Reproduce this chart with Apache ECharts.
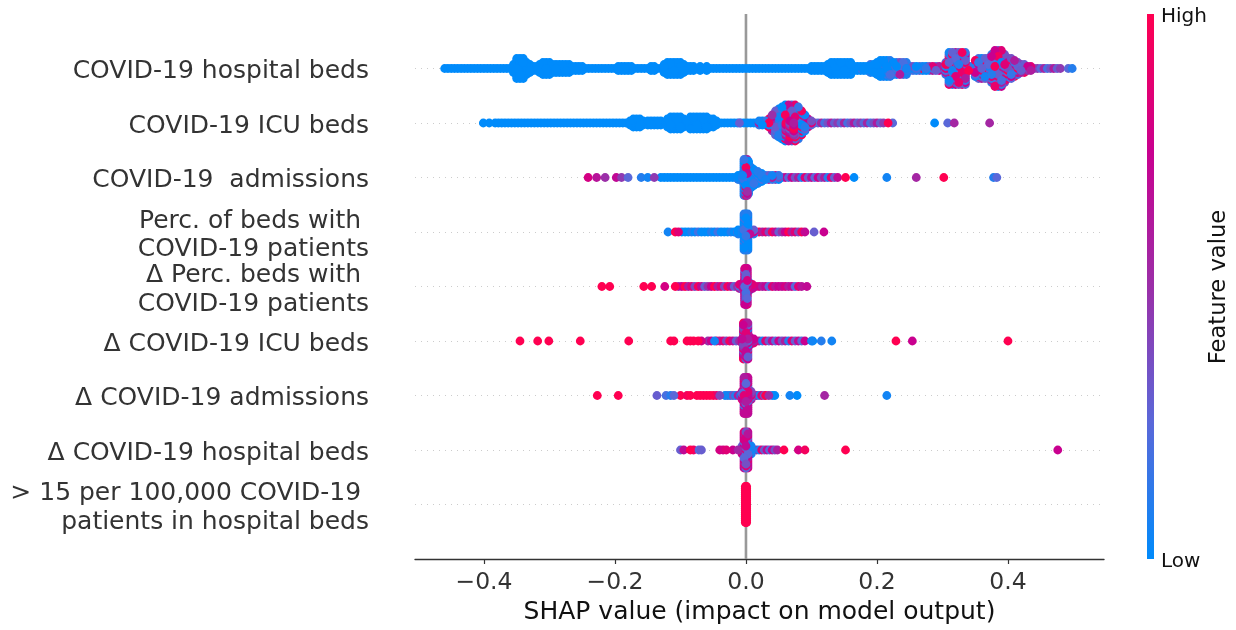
<!DOCTYPE html>
<html><head><meta charset="utf-8">
<script src="https://cdn.jsdelivr.net/npm/echarts@6/dist/echarts.min.js"></script>
<style>html,body{margin:0;padding:0;background:#fff}#c{width:1236px;height:630px}</style>
</head><body><div id="c"></div>
<script>
const featureNames = ['COVID-19 hospital beds','COVID-19 ICU beds','COVID-19  admissions','Perc. of beds with \nCOVID-19 patients','Δ Perc. beds with \nCOVID-19 patients','Δ COVID-19 ICU beds','Δ COVID-19 admissions','Δ COVID-19 hospital beds','> 15 per 100,000 COVID-19 \npatients in hospital beds'];
const xTicks = [-0.4,-0.2,0,0.2,0.4];
const rowTicks = [0,1,2,3,4,5,6,7,8];
const toneMixes = {
  L:[0], l:[0,0,0,.1,0,.18], b:[.2,.05,.35,.1,.6,0,.3,.15],
  m:[.9,.25,.6,.1,1,.3,.75,.2,.95,.35,.05,.15,.85,.28], p:[.5,.75,1,.6,.85,.4,.95,.7,.3],
  r:[1,.95,1,.85,1], g:[.75,.7,.8,.6,.72,.25,.85,.65], c:[.1,0,.3,.15,.7,.05,.95,.2,0,.5],
  R:[1], s:[.75,.35,.6,.1,.85,.3,.7,.25], v:[.3,.45,.25,.55,.2,.35,.6]
};
// thin strands of single points: x values read along a row, with a tone mix
const hospitalStrand = [-.46,-.455,-.45,-.445,-.44,-.435,-.43,-.425,-.42,-.415,-.41,-.405,-.40,-.395,-.39,-.385,-.38,-.375,-.37,-.365,-.36,-.355,-.35,-.345,-.34,-.335,-.33,-.325,-.32,-.315,-.31,-.305,-.30,-.295,-.29,-.285,-.28,-.275,-.27,-.265,-.26,-.255,-.25,-.245,-.24,-.235,-.23,-.225,-.22,-.215,-.21,-.205,-.20,-.195,-.19,-.185,-.18,-.175,-.17,-.165,-.16,-.155,-.15,-.145,-.14,-.135,-.13,-.125,-.12,-.115,-.11,-.105,-.10,-.095,-.09,-.085,-.08,-.075,-.07,-.065,-.06,-.055,-.05,-.045,-.04,-.035,-.03,-.025,-.02,-.015,-.01,-.005,0,.005,.01,.015,.02,.025,.03,.035,.04,.045,.05,.055,.06,.065,.07,.075,.08,.085,.09,.095,.10,.105,.11,.115,.12];
const hospitalTail = [.44,.445,.45,.455,.46,.465,.47,.475,.48];
const icuStrand = [-.383,-.378,-.373,-.368,-.363,-.358,-.353,-.348,-.343,-.338,-.333,-.328,-.323,-.318,-.313,-.308,-.303,-.298,-.293,-.288,-.283,-.278,-.273,-.268,-.263,-.258,-.253,-.248,-.243,-.238,-.233,-.228,-.223,-.218,-.213,-.208,-.203,-.198,-.193,-.188,-.183,-.178,-.173,-.168,-.163,-.158,-.153,-.148,-.143,-.138,-.133,-.128,-.123,-.118,-.113,-.108,-.103,-.098,-.093,-.088,-.083,-.078,-.073,-.068,-.063,-.058,-.053,-.048,-.043,-.038,-.033,-.028,-.023,-.018,-.013,-.008,-.003,.002,.007,.012,.017,.022,.027];
const icuTail = [.10,.105,.11,.115,.12,.125,.13,.135,.14,.145,.15,.155,.16,.165,.17,.175,.18,.185,.19,.195,.20,.205,.21];
const admissionsStrand = [-.13,-.125,-.12,-.115,-.11,-.105,-.10,-.095,-.09,-.085,-.08,-.075,-.07,-.065,-.06,-.055,-.05,-.045,-.04,-.035,-.03,-.025,-.02,-.015,-.01,-.005];
const admissionsTail = [.03,.035,.04,.045,.05,.055,.06,.065,.07,.075,.08,.085,.09,.095,.10,.105,.11,.115,.12,.125,.13,.135,.14];
const bedShareLeft = [-.098,-.093,-.088,-.083,-.078,-.073,-.068,-.063,-.058,-.053,-.048,-.043,-.038,-.033,-.028,-.023,-.018,-.013,-.008];
const bedShareRight = [.01,.015,.02,.025,.03,.035,.04,.045,.05,.055,.06,.065,.07,.075,.08,.085,.09];
const bedDeltaLeft = [-.103,-.098,-.093,-.088,-.083,-.078,-.073,-.068,-.063,-.058,-.053,-.048,-.043,-.038,-.033,-.028,-.023,-.018,-.013,-.008];
const bedDeltaRight = [.01,.015,.02,.025,.03,.035,.04,.045,.05,.055,.06,.065,.07,.075,.08,.085];
const icuDeltaLeft = [-.058,-.053,-.045,-.04,-.035,-.03,-.025,-.02,-.015,-.01];
const icuDeltaRight = [.01,.015,.02,.025,.03,.035,.04,.045,.05,.055,.06,.065,.07,.075,.08,.085,.09];
const admDeltaLeft = [-.028,-.024,-.02,-.016,-.012,-.008];
const admDeltaRight = [.008,.012,.016,.02,.024,.028];
const hospDeltaRight = [.008,.012,.016,.02,.024,.028,.032,.036,.04,.044,.048];
// each column: [shap value, stack half-count, feature tone or tone mix, optional stack shift]
const hospitalBeds = [[-.355,2,'L'],[-.35,5,'L'],[-.345,5,'L'],[-.34,5,'L'],[-.335,3,'L'],[-.33,2,'L'],[-.325,1,'L'],[-.32,1,'L'],[-.315,2,'L'],[-.31,3,'L'],[-.305,3,'L'],[-.30,3,'L'],[-.295,2,'L'],[-.29,2,'L'],[-.285,2,'L'],[-.28,2,'L'],[-.275,2,'L'],[-.27,2,'L'],[-.265,1,'L'],[-.26,1,'L'],[-.255,1,'L'],[-.25,1,'L'],
[-.195,1,'L'],[-.19,1,'L'],[-.185,1,'L'],[-.18,1,'L'],[-.175,1,'L'],[-.145,1,'L'],[-.14,1,'L'],[-.125,2,'L'],[-.12,3,'L'],[-.115,3,'L'],[-.11,3,'L'],[-.105,3,'L'],[-.10,3,'L'],[-.095,2,'L'],[-.09,1,'L'],[-.085,1,'L'],[-.08,1,'L'],[-.07,1,'L'],[-.06,1,'L'],
[.10,1,'L'],[.105,1,'L'],[.11,1,'L'],[.115,1,'L'],[.12,1,'L'],[.125,2,'L'],[.13,3,'L'],[.135,3,'L'],[.14,3,'L'],[.145,3,'L'],[.15,3,'L'],[.155,3,'L'],[.16,3,'L'],[.165,1,'L'],[.17,1,'L'],[.175,1,'l'],[.18,1,'L'],[.185,1,'L'],[.19,2,'l'],[.195,2,'L'],[.20,3,'L'],[.205,4,'L'],[.21,4,'l'],[.215,4,'l'],[.22,4,'b'],[.225,3,'c'],[.23,3,'b'],[.235,3,'b'],[.24,3,'c'],[.245,3,'c'],[.25,1,'c'],[.255,1,'b'],[.26,1,'b'],[.265,1,'b'],[.27,1,'c'],[.275,1,'c'],[.28,1,'s'],[.285,1,'s'],[.29,1,'s'],[.295,1,'s'],[.269,0,'R'],[.301,0,'R'],
[.305,3,'m'],[.31,8,'m'],[.315,8,'m'],[.32,8,'m'],[.325,8,'m'],[.33,8,'m'],[.335,8,'m'],[.34,1,'m'],[.345,1,'b'],[.35,4,'m'],[.355,5,'m'],[.36,5,'m'],[.365,5,'m'],[.37,5,'m'],[.375,7,'m'],[.38,9,'m'],[.385,9,'m'],[.39,9,'m'],[.395,7,'m'],[.40,5,'m'],[.405,5,'m'],[.41,4,'m'],[.415,3,'m'],[.42,2,'p'],[.425,2,'p'],[.43,1,'p'],[.435,1,'p'],[.492,0,.25],[.498,0,.1]];
const icuBeds = [[-.401,0,0],[-.392,0,0],[-.177,1,'L'],[-.172,2,'L'],[-.167,2,'L'],[-.162,2,'L'],[-.157,1,'L'],[-.15,1,'L'],[-.145,1,'L'],[-.14,1,'L'],[-.135,1,'L'],[-.13,1,'L'],[-.12,2,'L'],[-.115,3,'L'],[-.11,3,'L'],[-.105,3,'L'],[-.10,3,'L'],[-.095,2,'L'],[-.09,1,'L'],[-.085,3,'L'],[-.08,3,'L'],[-.075,3,'L'],[-.07,3,'L'],[-.065,3,'L'],[-.06,3,'L'],[-.055,2,'L'],[-.05,2,'L'],[-.045,1,'L'],[-.01,0,.3],[.02,1,'b'],[.025,1,'l'],[.03,1,'b'],[.035,2,'c'],[.04,4,'c'],[.045,6,'c'],[.05,7,'c'],[.055,8,'c'],[.06,9,'c'],[.065,9,'c'],[.07,9,'c'],[.075,9,'m'],[.08,8,'c'],[.085,6,'c'],[.09,4,'b'],[.095,2,'s'],[.10,1,'s'],[.061,3,'p',-3],[.067,4,'p',-3],[.073,3,'p',-3],[.217,0,1],[.224,0,.25],[.288,0,0],[.308,0,.25],[.318,0,.55],[.372,0,.55]];
const admissions = [[-.241,0,.8],[-.228,0,.65],[-.215,0,.5],[-.198,0,.7],[-.19,0,.45],[-.18,0,.25],[-.16,0,.1],[-.15,0,.05],[-.14,0,.45],[-.012,1,'l'],[-.005,2,'c'],[-.003,9,'c'],[0,9,'c'],[.002,9,'c'],[.004,8,'l'],[.008,5,'c'],[.012,4,'c'],[.018,3,'l'],[.024,2,'l'],[.03,1,'b'],[.035,1,'b'],[.04,1,'b'],[.045,1,'b'],[.05,1,'b'],[.152,0,1],[.165,0,0],[.215,0,.05],[.26,0,.55],[.302,0,1],[.378,0,.1],[.383,0,.25]];
const bedShare = [[-.119,0,.05],[-.108,0,1],[-.103,0,.85],[-.012,1,'l'],[-.006,1,.05],[-.003,9,'l'],[0,9,'c'],[.003,9,'l'],[.006,1,'c'],[.012,1,'s'],[.104,0,.3],[.119,0,.75]];
const bedShareDelta = [[-.22,0,1],[-.208,0,1],[-.156,0,1],[-.144,0,1],[-.124,0,.8],[-.108,0,1],[-.01,1,'s'],[-.004,2,'g'],[-.002,9,'g'],[0,9,'c'],[.002,9,'g'],[.005,2,'c'],[.01,1,'g'],[.093,0,.7]];
const icuDelta = [[-.345,0,1],[-.318,0,1],[-.301,0,1],[-.253,0,1],[-.179,0,1],[-.115,0,1],[-.11,0,1],[-.09,0,1],[-.085,0,1],[-.08,0,1],[-.073,0,1],[-.068,0,.8],[-.048,0,.05],[-.006,1,'g'],[-.004,9,'p'],[0,9,'g'],[.003,9,'s'],[.006,2,'g'],[.012,1,'g'],[.10,0,.05],[.102,0,0],[.115,0,.1],[.131,0,.05],[.229,0,1],[.254,0,.75],[.40,0,1]];
const admissionsDelta = [[-.227,0,1],[-.195,0,1],[-.136,0,.3],[-.122,0,.2],[-.115,0,.1],[-.11,0,.25],[-.10,0,1],[-.09,0,.95],[-.085,0,1],[-.075,0,1],[-.07,0,1],[-.065,0,.95],[-.06,0,1],[-.055,0,1],[-.05,0,1],[-.045,0,.9],[-.04,0,.4],[-.032,0,.05],[-.006,2,'g'],[-.003,9,'g'],[0,9,'s'],[.003,9,'g'],[.008,2,'p'],[.03,0,1],[.035,0,.5],[.04,0,.05],[.044,0,0],[.067,0,.05],[.078,0,0],[.12,0,.55],[.215,0,.05]];
const hospitalDelta = [[-.10,0,.3],[-.095,0,.7],[-.085,0,1],[-.08,0,.9],[-.072,0,.25],[-.068,0,.3],[-.04,0,.8],[-.035,0,.8],[-.03,0,.85],[-.02,0,.75],[-.012,0,.55],[-.006,2,'g'],[-.003,9,'g'],[0,9,'s'],[.003,9,'g'],[.008,2,'c'],[.058,0,1],[.08,0,.8],[.09,0,.95],[.152,0,1],[.476,0,.75]];
const thresholdFlag = [[-.001,9,'R'],[0,9,'R'],[.001,9,'R']];
const featureRows = [
  {strands:[[hospitalStrand,'L'],[hospitalTail,'v']],cols:hospitalBeds},
  {strands:[[icuStrand,'L'],[icuTail,'v']],cols:icuBeds},
  {strands:[[admissionsStrand,'L'],[admissionsTail,'s']],cols:admissions},
  {strands:[[bedShareLeft,'l'],[bedShareRight,'p']],cols:bedShare},
  {strands:[[bedDeltaLeft,'p'],[bedDeltaRight,'g']],cols:bedShareDelta},
  {strands:[[icuDeltaLeft,'p'],[icuDeltaRight,'s']],cols:icuDelta},
  {strands:[[admDeltaLeft,'b'],[admDeltaRight,'s']],cols:admissionsDelta},
  {strands:[[hospDeltaRight,'s']],cols:hospitalDelta},
  {strands:[],cols:thresholdFlag}];

const stackStep = 2/54.5;
const points = [];
featureRows.forEach((row,r)=>{
  const rowY = 8-r, rowPts=[], overlay=[];
  row.strands.forEach(([xs,m])=>xs.forEach((x,i)=>{
    const mix=toneMixes[m]; points.push([x,rowY,mix[i%mix.length]]);
  }));
  row.cols.forEach((c,i)=>{
    const [x,n,t,shift]=c;
    const mix = typeof t==='number' ? [t] : toneMixes[t];
    for(let k=-n;k<=n;k++){
      const tone = mix[(i*3+(k+n)*5)%mix.length];
      const p={v:[x,rowY+(k+(shift||0))*stackStep,tone],o:(i*37+(k+n)*11)%101};
      (shift?overlay:rowPts).push(p);
    }
  });
  rowPts.sort((a,b)=>a.o-b.o).concat(overlay).forEach(p=>points.push(p.v));
});
const font='"DejaVu Sans"';
const barStops=['#008bfb','#5a68d9','#9b2fa8','#c9008f','#ff0051'];
const chart=echarts.init(document.getElementById('c'),null,{renderer:'canvas'});
chart.setOption({
  animation:false,
  grid:{left:415,right:132,top:14,bottom:71,containLabel:false},
  xAxis:{type:'value',min:-0.5053,max:0.5466,
    name:'SHAP value (impact on model output)',nameLocation:'middle',nameGap:41,
    nameTextStyle:{fontFamily:font,fontSize:25,color:'#111'},
    axisLine:{show:true,onZero:false,lineStyle:{color:'#333',width:1.4}},
    axisTick:{show:true,customValues:xTicks,length:5,lineStyle:{color:'#333',width:1.2}},
    axisLabel:{customValues:xTicks,fontFamily:font,fontSize:23.5,color:'#333',margin:12,
      formatter:v=>(v<0?'\u2212':'')+Math.abs(v).toFixed(1)},
    splitLine:{show:false}},
  yAxis:[
    {type:'value',min:-1,max:9,interval:1,
     axisLine:{show:false},axisTick:{show:false},axisLabel:{show:false},
     splitLine:{show:true,showMinLine:false,showMaxLine:false,lineStyle:{color:'#ccc',width:1,type:[1,5]}}},
    {type:'value',position:'left',min:-0.94,max:9.06,
     axisLine:{show:false},axisTick:{show:false},splitLine:{show:false},
     axisLabel:{customValues:rowTicks,fontFamily:font,fontSize:25,color:'#333',margin:46,align:'right',lineHeight:28.5,
      formatter:v=>featureNames[8-Math.round(v)]}}
  ],
  visualMap:{type:'continuous',show:false,seriesIndex:1,dimension:2,min:0,max:1,inRange:{color:barStops}},
  series:[
    {type:'line',z:1,silent:true,symbol:'none',data:[[0,-1],[0,9]],lineStyle:{color:'#999',width:2.6}},
    {type:'scatter',z:2,symbol:'circle',symbolSize:8.8,data:points,itemStyle:{opacity:1},progressive:0}
  ],
  graphic:[
    {type:'rect',shape:{x:1147,y:14,width:7,height:545},style:{fill:new echarts.graphic.LinearGradient(0,1,0,0,barStops.map((c,i)=>({offset:i/(barStops.length-1),color:c})))}},
    {type:'text',left:1161,top:7,style:{text:'High',font:'20px '+font,fill:'#111'}},
    {type:'text',left:1161,top:552,style:{text:'Low',font:'20px '+font,fill:'#111'}},
    {type:'text',x:1219,y:287,rotation:Math.PI/2,style:{text:'Feature value',font:'22.6px '+font,fill:'#111',align:'center',verticalAlign:'middle'}}
  ]
});
</script></body></html>
